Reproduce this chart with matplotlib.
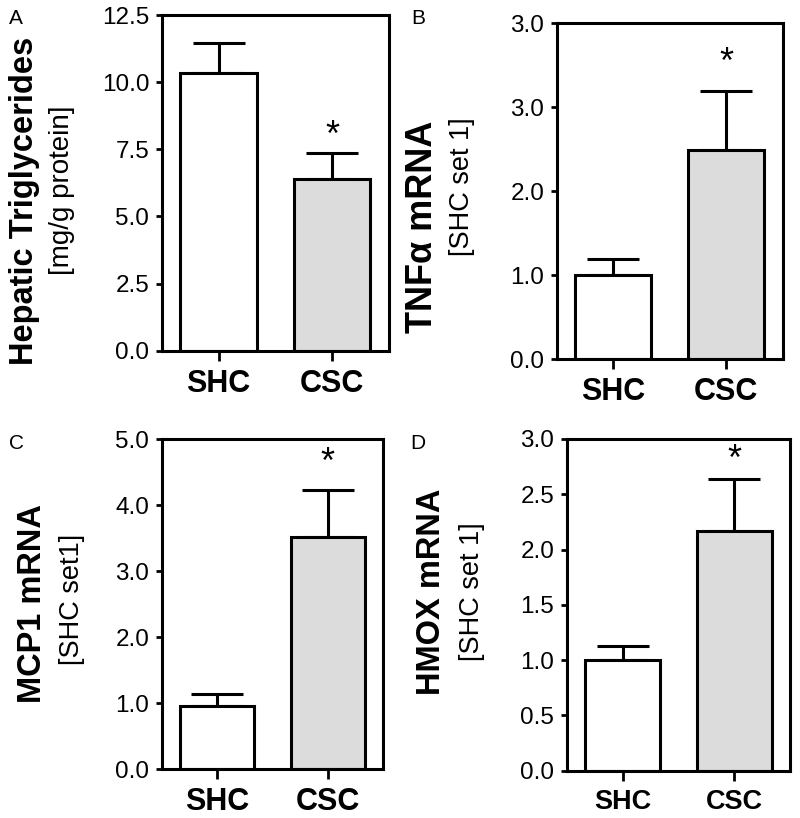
import matplotlib
matplotlib.use('Agg')
import matplotlib.pyplot as plt

plt.rcParams['font.family'] = ['Liberation Sans', 'DejaVu Sans']

groups = ['SHC', 'CSC']

tg_mean = [10.35, 6.38]
tg_err = [1.10, 0.99]
tg_ticks = [0.0, 2.5, 5.0, 7.5, 10.0, 12.5]
tg_labels = ['0.0', '2.5', '5.0', '7.5', '10.0', '12.5']

tnf_mean = [1.00, 2.49]
tnf_err = [0.19, 0.70]
tnf_ticks = [0, 1, 2, 3, 4]
tnf_labels = ['0.0', '1.0', '2.0', '3.0', '3.0']   # top label printed as 3.0 in the original

mcp_mean = [0.96, 3.52]
mcp_err = [0.18, 0.71]
mcp_ticks = [0, 1, 2, 3, 4, 5]
mcp_labels = ['0.0', '1.0', '2.0', '3.0', '4.0', '5.0']

hmox_mean = [1.00, 2.17]
hmox_err = [0.13, 0.47]
hmox_ticks = [0, 0.5, 1.0, 1.5, 2.0, 2.5, 3.0]
hmox_labels = ['0.0', '0.5', '1.0', '1.5', '2.0', '2.5', '3.0']

W, H = 800, 818
fig = plt.figure(figsize=(W / 100, H / 100), dpi=100)


def box(l, t, r, b):
    # pixel box -> figure fraction
    return [l / W, 1 - b / H, (r - l) / W, (b - t) / H]


def panel(rect, mean, err, ticks, labels, xfs, star_off):
    ax = fig.add_axes(box(*rect))
    x = [0, 1]
    ax.bar(x, mean, width=0.67, color=['white', '#dcdcdc'],
           edgecolor='black', linewidth=2.2, zorder=2)
    ax.errorbar(x, mean, yerr=[[0, 0], err], fmt='none', ecolor='black',
                elinewidth=2.2, capsize=19, capthick=2.2, zorder=1)
    ax.annotate('*', (1, mean[1] + err[1]), xytext=(0, star_off),
                textcoords='offset points', ha='center', va='center',
                fontsize=26)
    ax.set_xlim(-0.5, 1.5)
    ax.set_ylim(ticks[0], ticks[-1])
    ax.set_yticks(ticks)
    ax.set_yticklabels(labels, fontsize=17.5)
    ax.set_xticks(x)
    ax.set_xticklabels(groups, fontsize=xfs, fontweight='bold')
    ax.tick_params(axis='y', direction='out', length=4, width=2, pad=5)
    ax.tick_params(axis='x', direction='out', length=7, width=2, pad=6)
    for s in ax.spines.values():
        s.set_linewidth(2.2)
    return ax


panel((161.7, 15, 389, 350.7), tg_mean, tg_err, tg_ticks, tg_labels, 22, 12)
panel((556.7, 23, 782.7, 359), tnf_mean, tnf_err, tnf_ticks, tnf_labels, 22, 20)
panel((161.7, 439, 383, 769), mcp_mean, mcp_err, mcp_ticks, mcp_labels, 22, 19)
panel((566.7, 439, 790, 770.7), hmox_mean, hmox_err, hmox_ticks, hmox_labels, 19.5, 13)

# y titles, placed like the original figure
def ytitle(x, y, s, size, weight):
    fig.text(x / W, 1 - y / H, s, rotation=90, ha='center', va='center',
             fontsize=size, fontweight=weight)

ytitle(25, 201, 'Hepatic Triglycerides', 23.5, 'bold')
ytitle(62, 190, '[mg/g protein]', 20, 'normal')
ytitle(422, 227, 'TNF\u03b1 mRNA', 26, 'bold')
ytitle(462, 187, '[SHC set 1]', 19.5, 'normal')
ytitle(33, 604, 'MCP1 mRNA', 23.5, 'bold')
ytitle(72, 599, '[SHC set1]', 19.5, 'normal')
ytitle(432, 592, 'HMOX mRNA', 23.5, 'bold')
ytitle(472, 592, '[SHC set 1]', 19.5, 'normal')

for lab, px, py in [('A', 16, 18), ('B', 418, 19), ('C', 17, 444), ('D', 418, 444)]:
    fig.text(px / W, 1 - py / H, lab, ha='center', va='center', fontsize=15)

fig.savefig('out.png', dpi=100)
